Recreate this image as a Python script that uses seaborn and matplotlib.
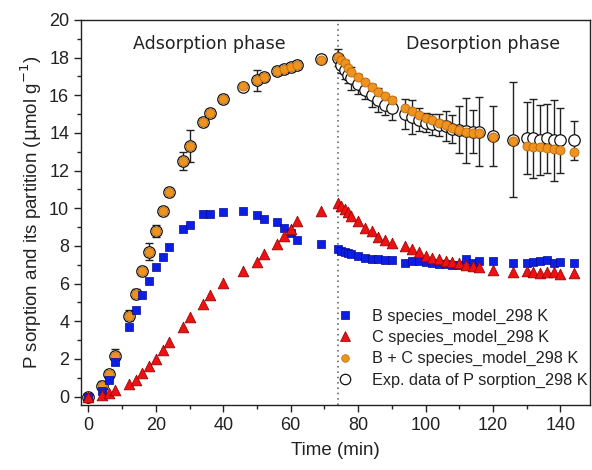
import numpy as np
import pandas as pd
import matplotlib
matplotlib.use("Agg")
import matplotlib.pyplot as plt
from matplotlib.lines import Line2D
import seaborn as sns

# Sampling times (min): adsorption run, then desorption run
time_ads = [0, 4, 6, 8, 12, 14, 16, 18, 20, 22, 24, 28, 30, 34, 36, 40, 46, 50,
            52, 56, 58, 60, 62, 69]
time_des = [74, 75, 76, 77, 78, 80, 82, 84, 86, 88, 90, 94, 96, 98, 100, 102, 104,
            106, 108, 110, 112, 114, 116, 120, 126, 130, 132, 134, 136, 138, 140, 144]

# Model: B species (umol/g)
b_ads = [0.0, 0.3, 0.9, 1.82, 3.7, 4.6, 5.4, 6.15, 6.86, 7.4, 7.92, 8.9, 9.12, 9.7,
         9.67, 9.8, 9.87, 9.66, 9.43, 9.25, 8.95, 8.68, 8.33, 8.1]
b_des = [7.85, 7.75, 7.68, 7.62, 7.57, 7.48, 7.38, 7.3, 7.28, 7.27, 7.27, 7.1, 7.2,
         7.18, 7.12, 7.1, 7.05, 7.02, 7.0, 7.0, 7.3, 7.1, 7.2, 7.18, 7.1, 7.1, 7.15,
         7.18, 7.23, 7.1, 7.15, 7.1]

# Model: C species (umol/g)
c_ads = [0.0, 0.1, 0.2, 0.33, 0.64, 0.9, 1.25, 1.6, 2.0, 2.46, 2.9, 3.7, 4.23, 4.93,
         5.4, 6.03, 6.65, 7.12, 7.57, 8.1, 8.54, 8.9, 9.3, 9.83]
c_des = [10.27, 10.1, 9.96, 9.78, 9.6, 9.34, 8.95, 8.77, 8.5, 8.33, 8.15, 7.97, 7.83,
         7.66, 7.48, 7.38, 7.33, 7.22, 7.14, 7.1, 6.97, 6.95, 6.88, 6.7, 6.62, 6.65,
         6.6, 6.56, 6.6, 6.6, 6.53, 6.56]

# Model: B + C species (umol/g)
bc_ads = [0.0, 0.55, 1.2, 2.14, 4.3, 5.46, 6.65, 7.67, 8.8, 9.87, 10.84, 12.52,
          13.32, 14.6, 15.05, 15.8, 16.5, 16.8, 16.96, 17.3, 17.4, 17.5, 17.6, 17.9]
bc_des = [18.05, 17.9, 17.7, 17.45, 17.25, 16.95, 16.7, 16.45, 16.2, 15.95, 15.75,
          15.3, 15.15, 14.95, 14.8, 14.67, 14.55, 14.4, 14.25, 14.15, 14.05, 14.0,
          13.98, 13.8, 13.55, 13.32, 13.28, 13.25, 13.2, 13.15, 13.1, 13.0]

# Experimental P sorption (mean and error)
exp_ads = [0.0, 0.55, 1.2, 2.14, 4.3, 5.46, 6.65, 7.7, 8.8, 9.87, 10.84, 12.52,
           13.32, 14.6, 15.05, 15.8, 16.46, 16.8, 16.96, 17.3, 17.4, 17.5, 17.6, 17.95]
err_ads = [0.1, 0.3, 0.2, 0.4, 0.3, 0.25, 0.2, 0.45, 0.3, 0.2, 0.2, 0.48, 0.84, 0.2,
           0.2, 0.2, 0.2, 0.55, 0.2, 0.2, 0.2, 0.2, 0.2, 0.2]
exp_des = [18.0, 17.6, 17.35, 17.1, 16.9, 16.6, 16.3, 16.0, 15.75, 15.5, 15.3, 15.0,
           14.85, 14.7, 14.55, 14.45, 14.42, 14.35, 14.2, 14.17, 14.13, 14.07, 14.07,
           13.85, 13.64, 13.72, 13.72, 13.64, 13.72, 13.6, 13.6, 13.6]
err_des = [0.45, 0.4, 0.5, 0.45, 0.6, 0.55, 0.5, 0.6, 0.65, 0.55, 0.6, 0.8, 0.9, 0.6,
           0.5, 0.55, 0.6, 0.8, 0.74, 1.24, 1.73, 1.14, 1.85, 1.6, 3.05, 1.9, 2.1,
           1.85, 1.84, 2.17, 1.72, 1.02]

phase_switch = 74
labels = ["B species_model_298 K", "C species_model_298 K",
          "B + C species_model_298 K", "Exp. data of P sorption_298 K"]

t = time_ads + time_des
df = pd.DataFrame({
    "time": t,
    "B": b_ads + b_des,
    "C": c_ads + c_des,
    "BC": bc_ads + bc_des,
    "exp": exp_ads + exp_des,
    "err": err_ads + err_des,
})

sns.set_theme(style="ticks")
plt.rcParams["font.family"] = ["Liberation Sans", "DejaVu Sans"]

fig = plt.figure(figsize=(5.92, 4.70), dpi=100)
ax = fig.add_axes([81 / 592, 65 / 470, 509 / 592, 385 / 470])

blue = "#0a1ee6"
red = "#ee1111"
orange = "#f0921e"
ink = "#222222"

# experimental points with error bars (drawn first, underneath the model)
ax.errorbar(df["time"], df["exp"], yerr=df["err"], fmt="none", ecolor=ink,
            elinewidth=1.0, capsize=3.2, capthick=1.0, zorder=2)
sns.scatterplot(data=df, x="time", y="exp", ax=ax, marker="o", s=68,
                facecolor="white", edgecolor="#111111", linewidth=0.9, zorder=3,
                legend=False)
sns.scatterplot(data=df, x="time", y="BC", ax=ax, marker="o", s=42,
                color=orange, edgecolor="#b86a10", linewidth=0.6, zorder=4,
                legend=False)
sns.scatterplot(data=df, x="time", y="B", ax=ax, marker="s", s=32,
                color=blue, edgecolor="#0a0a90", linewidth=0.5, zorder=4,
                legend=False)
sns.scatterplot(data=df, x="time", y="C", ax=ax, marker="^", s=60,
                color=red, edgecolor="#8a0000", linewidth=0.5, zorder=5,
                legend=False)

ax.axvline(phase_switch, color="#555555", linestyle=(0, (1, 2.5)), linewidth=1.1,
           zorder=1)

ax.set_xlim(-2.2, 148.8)
ax.set_ylim(-0.45, 20)
ax.set_xticks(np.arange(0, 141, 20))
ax.set_yticks(np.arange(0, 21, 2))
ax.set_xticks(np.arange(10, 150, 20), minor=True)
ax.set_yticks(np.arange(1, 20, 2), minor=True)
ax.tick_params(axis="both", which="major", direction="out", length=5, width=1,
               labelsize=13, color=ink, labelcolor=ink)
ax.tick_params(axis="both", which="minor", direction="out", length=3, width=1,
               color=ink)
for sp in ax.spines.values():
    sp.set_linewidth(1.0)
    sp.set_color(ink)

ax.set_xlabel("Time (min)", fontsize=13.5, color=ink, labelpad=6)
ax.set_ylabel(r"P sorption and its partition ($\mathrm{\mu}$mol g$^{-1}$)",
              fontsize=13.5, color=ink, labelpad=4)

ax.text(36, 18.75, "Adsorption phase", ha="center", va="center", fontsize=12.5,
        family=["DejaVu Sans"], color=ink)
ax.text(117, 18.75, "Desorption phase", ha="center", va="center", fontsize=12.5,
        family=["DejaVu Sans"], color=ink)

handles = [
    Line2D([], [], linestyle="none", marker="s", markersize=6, color=blue,
           markeredgecolor="#0a0a90", markeredgewidth=0.5),
    Line2D([], [], linestyle="none", marker="^", markersize=7.5, color=red,
           markeredgecolor="#8a0000", markeredgewidth=0.5),
    Line2D([], [], linestyle="none", marker="o", markersize=5.5, color=orange,
           markeredgecolor="#b86a10", markeredgewidth=0.5),
    Line2D([], [], linestyle="none", marker="o", markersize=7.5, color="white",
           markeredgecolor="#111111", markeredgewidth=0.9),
]
ax.legend(handles, labels, loc="lower left", bbox_to_anchor=(0.4886, 0.028),
          frameon=False, prop={"family": "Liberation Sans", "size": 11.7},
          handlelength=1.1, handletextpad=1.1, labelspacing=0.38,
          borderaxespad=0.0, labelcolor=ink)

fig.savefig("out.png", dpi=100)
